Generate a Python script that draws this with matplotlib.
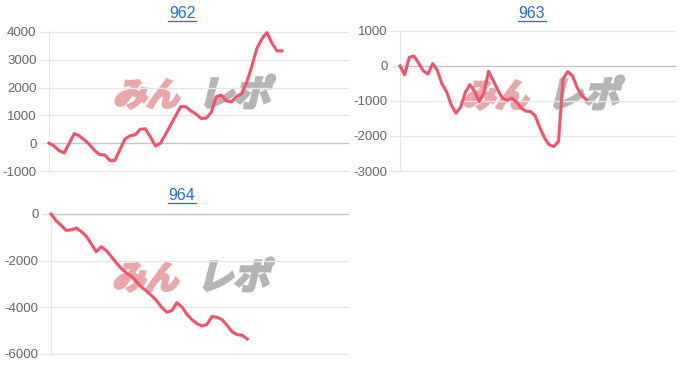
import numpy as np
import matplotlib
matplotlib.use("Agg")
import matplotlib.pyplot as plt
from matplotlib.textpath import TextPath
from matplotlib.patches import PathPatch
from matplotlib.font_manager import FontProperties
from matplotlib.transforms import Affine2D, IdentityTransform
from matplotlib.lines import Line2D

W, H = 700, 369
N_SLOTS = 60  # shared x-axis length (no labels shown)

# --- data ---
titles = ["962", "963", "964"]

vals_962 = [0, -100, -270, -350, 0, 350, 260, 120, -50, -260,
            -410, -420, -620, -620, -230, 150, 270, 300, 500, 520,
            230, -100, 0, 320, 650, 990, 1320, 1310, 1160, 1050,
            890, 900, 1100, 1670, 1730, 1520, 1490, 1680, 1780, 2180,
            2750, 3400, 3750, 3980, 3600, 3320, 3320]

vals_963 = [0, -250, 250, 285, 80, -140, -230, 70, -120, -510,
            -740, -1110, -1350, -1180, -760, -530, -730, -1020, -770, -150,
            -410, -690, -920, -980, -920, -1030, -1200, -1290, -1300, -1420,
            -1760, -2050, -2250, -2300, -2160, -360, -160, -280, -610, -850,
            -960]

vals_964 = [0, -280, -480, -700, -680, -600, -750, -950, -1280, -1620,
            -1400, -1570, -1830, -2100, -2340, -2530, -2670, -2910, -3130, -3310,
            -3500, -3720, -4000, -4210, -4140, -3800, -3980, -4300, -4530, -4700,
            -4800, -4730, -4390, -4430, -4530, -4780, -5050, -5170, -5200, -5360]

yticks_962 = [-1000, 0, 1000, 2000, 3000, 4000]
yticks_963 = [-3000, -2000, -1000, 0, 1000]
yticks_964 = [-6000, -4000, -2000, 0]

LINE_COLOR = "#f4516c"
GRID_COLOR = "#e6e6e6"
ZERO_COLOR = "#c4c4c4"
TICK_COLOR = "#666666"
TITLE_COLOR = "#1a6fd6"

plt.rcParams["font.family"] = ["Liberation Sans", "DejaVu Sans"]

fig = plt.figure(figsize=(W / 100, H / 100), dpi=100)


def px_rect(left, top, right, bottom):
    return [left / W, (H - bottom) / H, (right - left) / W, (bottom - top) / H]


def watermark(cx, cy):
    """Pseudo 'みんレポ' logo drawn behind each chart (skewed, heavy text paths)."""
    fp = FontProperties(family="Noto Sans CJK JP", weight="bold")
    skew = Affine2D().skew_deg(14, 0)
    base_y = H - cy - 14
    for text, x0, size, color in [("みん", cx - 86, 33, "#eaa7aa"),
                                  ("レポ", cx - 1, 36, "#b5b5b5")]:
        tp = TextPath((0, 0), text, size=size, prop=fp)
        tr = skew + Affine2D().translate(x0, base_y)
        patch = PathPatch(tr.transform_path(tp), facecolor=color, edgecolor=color,
                          linewidth=2.0, joinstyle="miter",
                          transform=IdentityTransform(), zorder=-5)
        fig.add_artist(patch)


def title(text, cx, cy):
    fig.text(cx / W, 1 - cy / H, text, color=TITLE_COLOR, fontsize=11.5,
             ha="center", va="center")
    fig.add_artist(Line2D([(cx - 14) / W, (cx + 14) / W],
                          [1 - (cy + 7.5) / H, 1 - (cy + 7.5) / H],
                          color=TITLE_COLOR, linewidth=0.9))


def panel(rect, values, yticks):
    ax = fig.add_axes(rect)
    ax.set_facecolor("none")
    x = np.arange(len(values))
    ax.plot(x, values, color=LINE_COLOR, linewidth=2.2, clip_on=False,
            solid_joinstyle="round", zorder=3)
    ax.set_xlim(0, N_SLOTS - 1)
    ax.set_ylim(yticks[0], yticks[-1])
    ax.set_yticks(yticks)
    ax.set_yticklabels([str(t) for t in yticks])
    ax.set_xticks([])
    for t in yticks:
        ax.axhline(t, color=ZERO_COLOR if t == 0 else GRID_COLOR,
                   linewidth=1, zorder=1, clip_on=False)
    for s in ["top", "right", "bottom"]:
        ax.spines[s].set_visible(False)
    ax.spines["left"].set_color(GRID_COLOR)
    ax.tick_params(axis="y", length=7, width=1, color=GRID_COLOR,
                   labelcolor=TICK_COLOR, labelsize=9.5, pad=2)
    return ax


watermark(199, 92)
watermark(548, 93)
watermark(198, 275)

title(titles[0], 182, 13)
title(titles[1], 532, 13)
title(titles[2], 182, 196)

panel(px_rect(49, 32, 348, 171), vals_962, yticks_962)
panel(px_rect(400, 31, 675, 171), vals_963, yticks_963)
panel(px_rect(51, 214, 348, 354), vals_964, yticks_964)

fig.savefig("out.png", dpi=100, facecolor="white")
